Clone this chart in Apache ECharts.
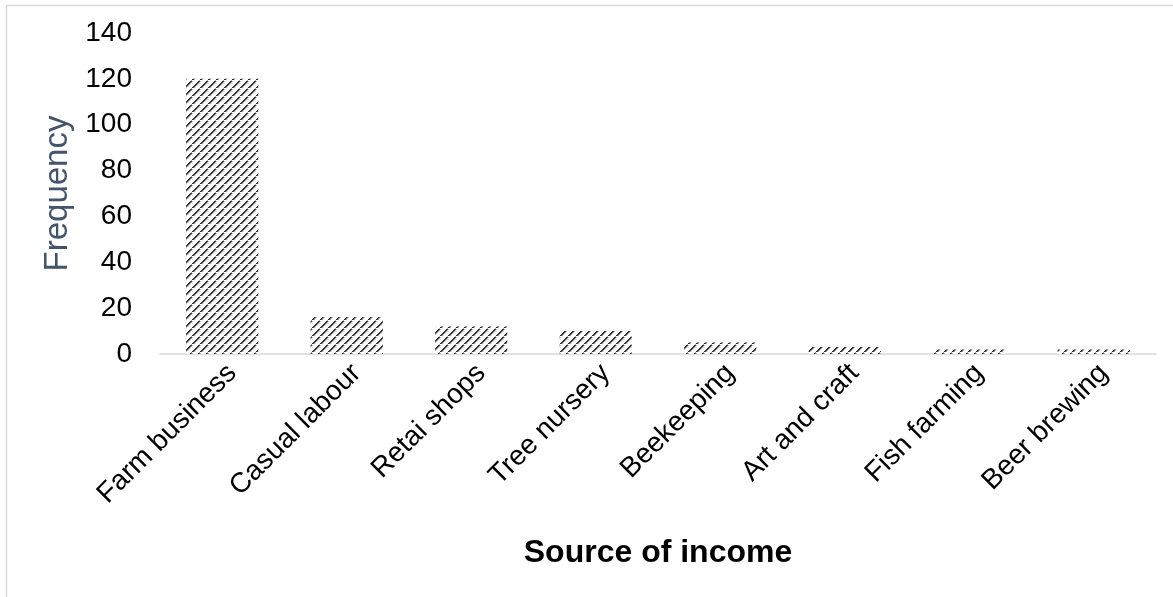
<!DOCTYPE html>
<html>
<head>
<meta charset="utf-8">
<script src="https://cdn.jsdelivr.net/npm/echarts@6/dist/echarts.min.js"></script>
<style>
  html, body { margin: 0; padding: 0; background: #ffffff; }
  #chart { width: 1173px; height: 597px; }
</style>
</head>
<body>
<div id="chart"></div>
<script>
// Income sources and their frequencies
const categories = ['Farm business', 'Casual labour', 'Retai shops', 'Tree nursery',
                    'Beekeeping', 'Art and craft', 'Fish farming', 'Beer brewing'];
const frequency = [120, 16, 12, 10, 5, 3, 2, 2];
const yTicks = { min: 0, max: 140, interval: 20 };

// Dashed upward-diagonal hatch used to fill the bars
function makeHatch() {
  const size = 8;
  const c = document.createElement('canvas');
  c.width = size; c.height = size;
  const g = c.getContext('2d');
  g.fillStyle = '#ffffff';
  g.fillRect(0, 0, size, size);
  for (let y = 0; y < size; y++) {
    const x = size - 1 - y;
    if (y === 0) {                    // small dot in the gap between dashes
      g.fillStyle = '#9a9a9a';
      g.fillRect(x, y, 1, 1);
      continue;
    }
    g.fillStyle = '#1e1e1e';
    g.fillRect(x, y, 1, 1);
    g.fillStyle = '#4a4a4a';
    g.fillRect((x + 1) % size, y, 1, 1);
    g.fillStyle = '#b0b0b0';
    g.fillRect((x + 2) % size, y, 1, 1);
  }
  return c;
}

const font = 'Liberation Sans, Arial, sans-serif';
const chart = echarts.init(document.getElementById('chart'), null, { renderer: 'canvas' });
chart.setOption({
  backgroundColor: '#ffffff',
  animation: false,
  graphic: [{
    type: 'rect',
    shape: { x: 6.5, y: 5.5, width: 1200, height: 700 },
    style: { fill: 'none', stroke: '#d9d9d9', lineWidth: 1.5 },
    silent: true,
    z: -1
  }],
  grid: { left: 160, right: 17, top: 33, bottom: 243 },
  xAxis: {
    type: 'category',
    data: categories,
    name: 'Source of income',
    nameLocation: 'middle',
    nameGap: 183,
    nameTextStyle: { fontFamily: font, fontSize: 32, fontWeight: 'bold', color: '#000000' },
    axisLine: { lineStyle: { color: '#d9d9d9', width: 1.5 } },
    axisTick: { show: false },
    axisLabel: {
      rotate: 45,
      interval: 0,
      margin: 5,
      verticalAlign: 'top',
      fontFamily: font,
      fontSize: 28,
      color: '#000000'
    }
  },
  yAxis: {
    type: 'value',
    min: yTicks.min,
    max: yTicks.max,
    interval: yTicks.interval,
    name: 'Frequency',
    nameLocation: 'middle',
    nameGap: 80,
    nameTextStyle: { fontFamily: font, fontSize: 33, color: '#44546a' },
    axisLine: { show: false },
    axisTick: { show: false },
    splitLine: { show: false },
    axisLabel: {
      margin: 28,
      fontFamily: font,
      fontSize: 28,
      color: '#000000'
    }
  },
  series: [{
    type: 'bar',
    data: frequency,
    barWidth: '58%',
    itemStyle: { color: { image: makeHatch(), repeat: 'repeat' } }
  }]
});
</script>
</body>
</html>
